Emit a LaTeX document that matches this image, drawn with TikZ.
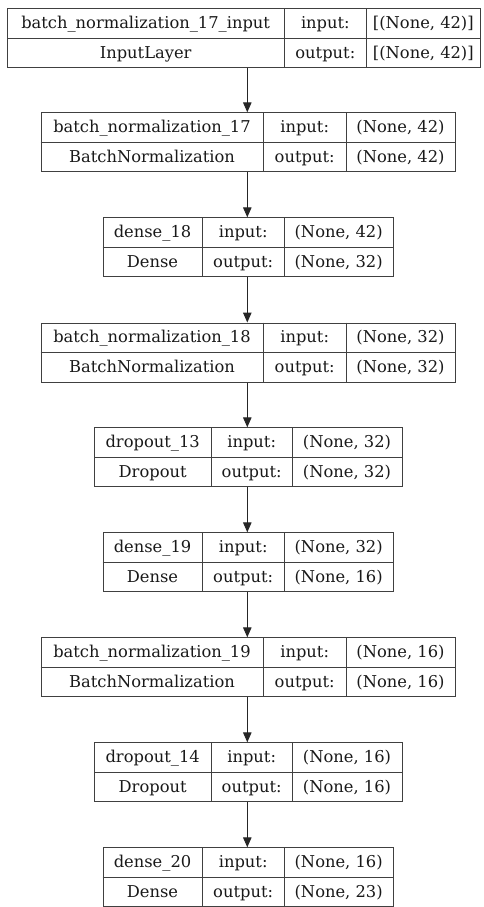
\documentclass[tikz,border=0pt]{standalone}
\usepackage{fontspec}
\setmainfont{DejaVu Serif}
\usetikzlibrary{arrows.meta}
\tikzset{
  boxline/.style={draw=black!75, line width=1pt},
  boxnode/.style={boxline, rectangle, inner sep=0pt, anchor=north west, minimum height=59pt},
  celltext/.style={font=\fontsize{16.3}{19}\selectfont, text=black!90, inner sep=0pt, anchor=base},
  flow/.style={draw=black!85, line width=1pt, -{Triangle[length=10pt,width=8.5pt]}},
}
\def\colsinput{\def\bL{7.3}\def\bA{284}\def\bB{366.7}\def\bR{480}}
\def\colswide{\def\bL{40.7}\def\bA{263.3}\def\bB{346}\def\bR{455}}
\def\colsdense{\def\bL{102.7}\def\bA{202.3}\def\bB{284}\def\bR{393.3}}
\def\colsdrop{\def\bL{94.3}\def\bA{211}\def\bB{292.3}\def\bR{401.7}}
% #1 name, #2 top, #3 column set, #4 title, #5 type, #6 input shape, #7 output shape
\newcommand{\layerbox}[7]{%
  #3%
  \pgfmathsetmacro\bT{#2}%
  \pgfmathsetmacro\bM{#2+30}%
  \pgfmathsetmacro\bD{#2+59}%
  \pgfmathsetmacro\bW{\bR-\bL}%
  \node[boxnode, minimum width=\bW pt] (#1) at (\bL,\bT) {};
  \draw[boxline] (\bL,\bM) -- (\bR,\bM);
  \draw[boxline] (\bA,\bT) -- (\bA,\bD);
  \draw[boxline] (\bB,\bT) -- (\bB,\bD);
  \node[celltext] (#1-name) at ({(\bL+\bA)/2},{\bT+20.3}) {#4};
  \node[celltext] (#1-type) at ({(\bL+\bA)/2},{\bM+20.3}) {#5};
  \node[celltext] (#1-inl) at ({(\bA+\bB)/2},{\bT+20.3}) {input:};
  \node[celltext] (#1-outl) at ({(\bA+\bB)/2},{\bM+20.3}) {output:};
  \node[celltext] (#1-in) at ({(\bB+\bR)/2},{\bT+20.3}) {#6};
  \node[celltext] (#1-out) at ({(\bB+\bR)/2},{\bM+20.3}) {#7};
}
\begin{document}
\begin{tikzpicture}[x=1pt,y=-1pt]
\useasboundingbox (0,0) rectangle (484,907);
\fill[white] (0,0) rectangle (484,907);
\coordinate (ax) at (247.3,0);
\layerbox{b1}{8.3}{\colsinput}{batch\_normalization\_17\_input}{InputLayer}{[(None, 42)]}{[(None, 42)]}
\layerbox{b2}{112.3}{\colswide}{batch\_normalization\_17}{BatchNormalization}{(None, 42)}{(None, 42)}
\layerbox{b3}{217.3}{\colsdense}{dense\_18}{Dense}{(None, 42)}{(None, 32)}
\layerbox{b4}{322.5}{\colswide}{batch\_normalization\_18}{BatchNormalization}{(None, 32)}{(None, 32)}
\layerbox{b5}{427.3}{\colsdrop}{dropout\_13}{Dropout}{(None, 32)}{(None, 32)}
\layerbox{b6}{532.3}{\colsdense}{dense\_19}{Dense}{(None, 32)}{(None, 16)}
\layerbox{b7}{637.3}{\colswide}{batch\_normalization\_19}{BatchNormalization}{(None, 16)}{(None, 16)}
\layerbox{b8}{742.3}{\colsdrop}{dropout\_14}{Dropout}{(None, 16)}{(None, 16)}
\layerbox{b9}{847.3}{\colsdense}{dense\_20}{Dense}{(None, 16)}{(None, 23)}
\foreach \a/\b in {b1/b2,b2/b3,b3/b4,b4/b5,b5/b6,b6/b7,b7/b8,b8/b9}
  \draw[flow] (\a.south -| ax) -- (\b.north -| ax);
\end{tikzpicture}
\end{document}
